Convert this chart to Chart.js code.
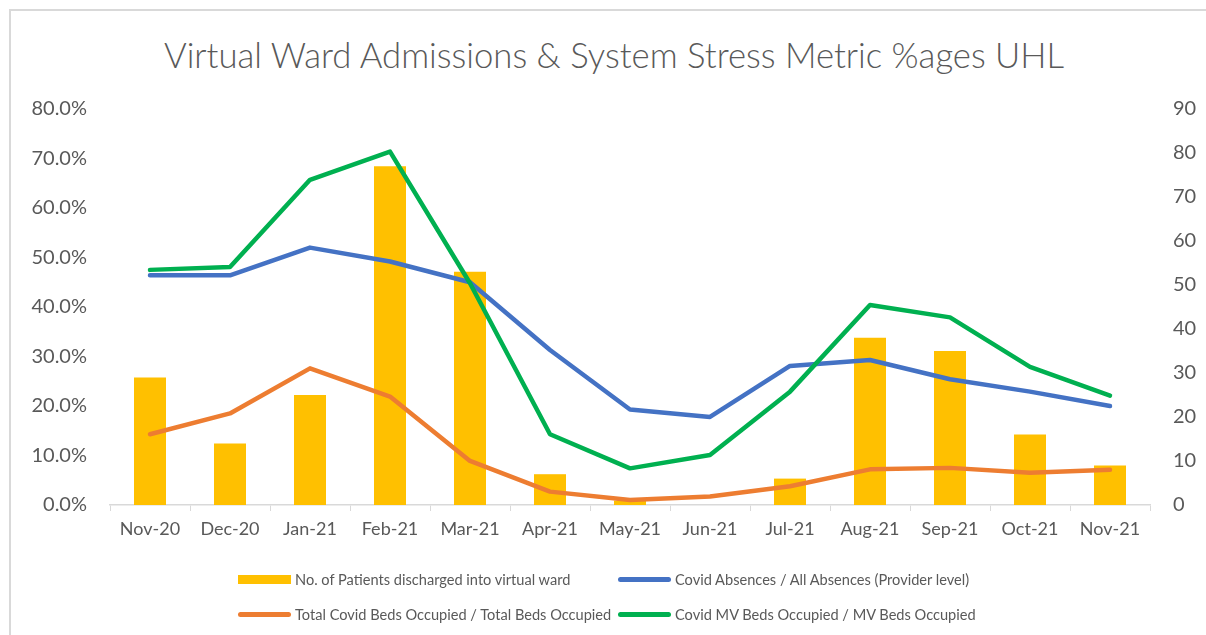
<!DOCTYPE html>
<html>
<head>
<meta charset="utf-8">
<script src="https://cdn.jsdelivr.net/npm/chart.js@4"></script>
<style>
  html, body { margin: 0; padding: 0; background: #ffffff; width: 1206px; height: 635px; overflow: hidden; position: relative; }
  #frame { position: absolute; left: 9px; top: 9px; width: 1210px; height: 640px; border-left: 2px solid #d9d9d9; border-top: 2px solid #d9d9d9; box-sizing: border-box; }
  #title { position: absolute; left: 0; width: 1228px; top: 34px; line-height: 42px; text-align: center; font-family: Lato, "Open Sans", sans-serif; font-weight: 300; font-size: 34.7px; color: #595959; white-space: nowrap; }
  #wrap { position: absolute; left: 0; top: 0; width: 1206px; height: 635px; }
  #legend { position: absolute; left: 0; top: 0; width: 1206px; height: 635px; pointer-events: none; font-family: Lato, "Open Sans", sans-serif; font-size: 14.6px; color: #595959; }
  .li { position: absolute; display: flex; align-items: center; white-space: nowrap; }
  .sw { display: inline-block; margin-right: 4px; }
</style>
</head>
<body>
<div id="frame"></div>
<div id="title">Virtual Ward Admissions &amp; System Stress Metric %ages UHL</div>
<div id="wrap"><canvas id="c" width="1206" height="635"></canvas></div>
<div id="legend"></div>
<script>
const categories = ["Nov-20","Dec-20","Jan-21","Feb-21","Mar-21","Apr-21","May-21","Jun-21","Jul-21","Aug-21","Sep-21","Oct-21","Nov-21"];
const patientsDischarged = [29, 14, 25, 77, 53, 7, 1, 0, 6, 38, 35, 16, 9];
const covidAbsencesPct = [46.4, 46.4, 52.0, 49.2, 45.0, 31.3, 19.3, 17.8, 28.1, 29.3, 25.4, 22.9, 20.0];
const covidBedsPct = [14.3, 18.5, 27.6, 21.9, 8.9, 2.7, 1.0, 1.7, 3.8, 7.2, 7.5, 6.5, 7.1];
const covidMVBedsPct = [47.5, 48.1, 65.7, 71.4, 44.8, 14.3, 7.4, 10.1, 22.9, 40.4, 37.9, 27.9, 22.1];
const leftTicksMax = 80;
const rightTicksMax = 90;

const tickFont = { family: "Lato, 'Open Sans', sans-serif", size: 20 };
const xFont = { family: "Lato, 'Open Sans', sans-serif", size: 18 };
const txt = '#595959';

const chart = new Chart(document.getElementById('c'), {
  data: {
    labels: categories,
    datasets: [
      { type: 'bar', label: 'No. of Patients discharged into virtual ward', data: patientsDischarged, backgroundColor: '#FFC000', yAxisID: 'y1', order: 4, categoryPercentage: 1.0, barPercentage: 0.4 },
      { type: 'line', label: 'Covid Absences / All Absences (Provider level)', data: covidAbsencesPct, borderColor: '#4472C4', backgroundColor: '#4472C4', borderWidth: 4.5, pointRadius: 0, tension: 0, yAxisID: 'y', order: 3, borderCapStyle: 'round', borderJoinStyle: 'round' },
      { type: 'line', label: 'Total Covid Beds Occupied / Total Beds Occupied', data: covidBedsPct, borderColor: '#ED7D31', backgroundColor: '#ED7D31', borderWidth: 4.5, pointRadius: 0, tension: 0, yAxisID: 'y', order: 2, borderCapStyle: 'round', borderJoinStyle: 'round' },
      { type: 'line', label: 'Covid MV Beds Occupied / MV Beds Occupied', data: covidMVBedsPct, borderColor: '#00B050', backgroundColor: '#00B050', borderWidth: 4.5, pointRadius: 0, tension: 0, yAxisID: 'y', order: 1, borderCapStyle: 'round', borderJoinStyle: 'round' }
    ]
  },
  options: {
    responsive: false,
    animation: false,
    layout: { padding: { top: 109, bottom: 90, left: 0, right: 0 } },
    plugins: { legend: { display: false }, title: { display: false }, tooltip: { enabled: false } },
    scales: {
      x: {
        offset: true,
        grid: { display: true, drawOnChartArea: false, drawTicks: true, tickLength: 6, color: '#d9d9d9', offset: true },
        border: { display: true, color: '#d9d9d9', width: 1.5 },
        ticks: { color: txt, font: xFont, padding: 7, maxRotation: 0, autoSkip: false },
        afterFit: s => { s.height = 40; }
      },
      y: {
        position: 'left', min: 0, max: leftTicksMax,
        grid: { display: false, drawTicks: false }, border: { display: false },
        ticks: { stepSize: 10, color: txt, font: tickFont, padding: 23, callback: v => v.toFixed(1) + '%' },
        afterFit: s => { s.width = 110; }
      },
      y1: {
        position: 'right', min: 0, max: rightTicksMax,
        grid: { display: false, drawTicks: false }, border: { display: false },
        ticks: { stepSize: 10, color: txt, font: tickFont, padding: 23 },
        afterFit: s => { s.width = 56; }
      }
    }
  }
});

// HTML legend, 2 x 2 grid, generated from datasets
const legendPos = [ {x: 238, y: 579}, {x: 618, y: 579}, {x: 238, y: 614}, {x: 618, y: 614} ];
const lg = document.getElementById('legend');
chart.data.datasets.forEach((ds, i) => {
  const d = document.createElement('div');
  d.className = 'li';
  d.style.left = legendPos[i].x + 'px';
  d.style.top = (legendPos[i].y - 10) + 'px';
  d.style.height = '20px';
  const sw = document.createElement('span');
  sw.className = 'sw';
  sw.style.width = '53px';
  if (ds.type === 'bar') { sw.style.height = '9px'; sw.style.background = ds.backgroundColor; }
  else { sw.style.height = '5px'; sw.style.borderRadius = '3px'; sw.style.background = ds.borderColor; }
  d.appendChild(sw);
  const t = document.createElement('span');
  t.textContent = ds.label;
  d.appendChild(t);
  lg.appendChild(d);
});
</script>
</body>
</html>
